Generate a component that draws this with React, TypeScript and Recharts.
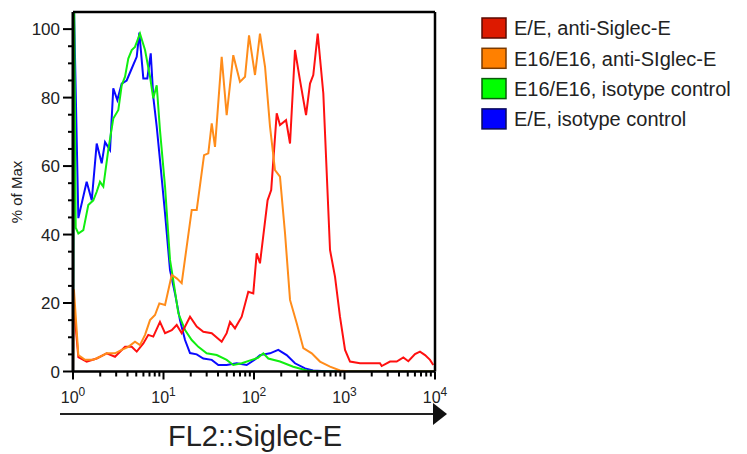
import React from 'react';
import { LineChart, Line, XAxis, YAxis, ReferenceLine } from 'recharts';

// x values are log10(FL2::Siglec-E), y values are % of Max
const eeAntiLog = [0, 0.059, 0.151, 0.262, 0.372, 0.464, 0.575, 0.649, 0.704, 0.777, 0.832, 0.887, 0.961, 1.017, 1.091, 1.146, 1.201, 1.293, 1.367, 1.44, 1.533, 1.643, 1.698, 1.735, 1.79, 1.864, 1.937, 1.992, 2.03, 2.066, 2.15, 2.19, 2.251, 2.287, 2.354, 2.398, 2.453, 2.508, 2.575, 2.619, 2.655, 2.704, 2.766, 2.84, 2.895, 2.95, 3.006, 3.061, 3.171, 3.356, 3.392, 3.411, 3.503, 3.577, 3.65, 3.705, 3.779, 3.834, 3.89, 3.945, 3.981];
const eeAntiPct = [22, 4.2, 2.9, 3.8, 5.3, 4.3, 7.2, 7.2, 5.8, 8.2, 10.7, 10.2, 14.5, 11.2, 12.1, 13.6, 11.2, 16, 13.1, 11.6, 11.2, 8.7, 11.2, 14.5, 12.6, 16, 23.3, 22.8, 34.5, 31.6, 50, 53, 75.4, 72, 73.4, 66.6, 93.9, 85.1, 74.9, 84.1, 86.6, 98.7, 81.2, 35.5, 27.7, 16, 6.3, 2.9, 2.4, 2.4, 2.4, 1.6, 2.9, 2.9, 4.1, 3, 5.1, 5.8, 4.8, 3.4, 1.9];

const e16AntiLog = [0, 0.01, 0.059, 0.133, 0.224, 0.298, 0.372, 0.464, 0.538, 0.611, 0.685, 0.74, 0.796, 0.851, 0.906, 0.954, 1.017, 1.091, 1.146, 1.201, 1.256, 1.312, 1.367, 1.448, 1.495, 1.533, 1.569, 1.643, 1.698, 1.771, 1.845, 1.901, 1.945, 2.011, 2.066, 2.122, 2.177, 2.232, 2.287, 2.343, 2.398, 2.472, 2.545, 2.638, 2.729, 2.84, 2.95, 3.061, 4];
const e16AntiPct = [0, 24, 4.8, 3.4, 3.4, 4.3, 5.3, 5.3, 6.3, 7.2, 8.7, 7.7, 10.7, 15, 16.5, 19.9, 19.4, 28.2, 27.2, 25.8, 36.4, 47.2, 47.2, 63.2, 63.7, 72.5, 65.6, 91.9, 74.9, 92.4, 84.6, 86.1, 98.2, 86.6, 98.7, 89, 71.5, 58.8, 56.9, 40.3, 20.9, 14.1, 6.8, 5.3, 2.9, 1.4, 0.3, 0, 0];

const e16IsoLog = [0, 0.012, 0.03, 0.059, 0.114, 0.169, 0.224, 0.262, 0.298, 0.335, 0.39, 0.445, 0.501, 0.538, 0.575, 0.611, 0.649, 0.685, 0.74, 0.796, 0.851, 0.887, 0.925, 0.961, 1.017, 1.072, 1.108, 1.164, 1.238, 1.312, 1.385, 1.477, 1.588, 1.698, 1.771, 1.864, 1.975, 2.044, 2.103, 2.158, 2.287, 2.434, 2.582, 2.729, 4];
const e16IsoPct = [0, 110, 42, 40.3, 41.3, 48.6, 50, 52.5, 55.4, 54, 64.7, 73.9, 76.4, 83.6, 86.1, 91.4, 93.9, 94.8, 98.7, 93.9, 86.1, 79.8, 83.6, 70.5, 54, 32.6, 26.7, 17, 12.1, 9.2, 7.2, 5.3, 4.8, 3.4, 1.9, 2.4, 3.4, 4, 5.3, 3.8, 2.9, 1.4, 0.3, 0, 0];

const eeIsoLog = [0, 0.008, 0.059, 0.151, 0.207, 0.262, 0.317, 0.354, 0.409, 0.445, 0.49, 0.538, 0.593, 0.649, 0.704, 0.733, 0.777, 0.821, 0.859, 0.887, 0.925, 0.961, 1.017, 1.072, 1.127, 1.182, 1.238, 1.293, 1.367, 1.44, 1.533, 1.606, 1.698, 1.809, 1.919, 2.011, 2.066, 2.177, 2.268, 2.361, 2.453, 2.564, 2.652, 2.84, 4];
const eeIsoPct = [0, 110, 44.8, 55.4, 50, 66.6, 60.8, 67, 64.7, 82.7, 79.3, 84.1, 85, 88.5, 91.9, 99, 85.6, 85.6, 92.9, 80.2, 71.5, 61.8, 46.2, 29.6, 22.8, 15, 9.2, 5.4, 5, 3.8, 3.4, 1.9, 1.9, 2.4, 1.9, 3.5, 4.8, 5.3, 6.3, 4.8, 2.4, 0.9, 0.3, 0, 0];

const seriesNames = ['E/E, anti-Siglec-E', 'E16/E16, anti-SIglec-E', 'E16/E16, isotype control', 'E/E, isotype control'];
const lineColors = ['#ff1010', '#ff8c1a', '#10ee10', '#0a0aff'];
const boxColors = ['#dd1a00', '#ff8000', '#00ff00', '#0000ff'];
const boxBorders = ['#5a0a00', '#7a3a00', '#0a5a0a', '#0a0a5a'];

const xMajorTicks = [0, 1, 2, 3, 4];
const yMajorTicks = [0, 20, 40, 60, 80, 100];

const xTicks: number[] = [];
for (let d = 0; d < 4; d++) for (let m = 1; m <= 9; m++) xTicks.push(+(d + Math.log10(m)).toFixed(4));
xTicks.push(4);
const yTicks: number[] = [];
for (let v = 0; v <= 100; v += 5) yTicks.push(v);

const mk = (xs: number[], ys: number[]) => xs.map((x, i) => ({ x, y: ys[i] }));

const FONT = '"Liberation Sans", Arial, sans-serif';

const XTick = (props: any) => {
  const { x, y, payload } = props;
  const v = payload.value;
  const isMajor = xMajorTicks.some((t) => Math.abs(t - v) < 1e-6);
  return (
    <g>
      <line x1={x} x2={x} y1={y} y2={y + (isMajor ? 8 : 5)} stroke="#000" strokeWidth={2} />
      {isMajor && (
        <text x={x} y={y + 31} textAnchor="middle" fontFamily={FONT} fontSize={16} fill="#222">
          10<tspan dy={-7} fontSize={12}>{Math.round(v)}</tspan>
        </text>
      )}
    </g>
  );
};

const YTick = (props: any) => {
  const { x, y, payload } = props;
  const v = payload.value;
  const isMajor = yMajorTicks.includes(v);
  return (
    <g>
      <line x1={x} x2={x - (isMajor ? 10 : 5)} y1={y} y2={y} stroke="#000" strokeWidth={2} />
      {isMajor && (
        <text x={x - 13} y={y} dy="0.36em" textAnchor="end" fontFamily={FONT} fontSize={17} fill="#222">
          {v}
        </text>
      )}
    </g>
  );
};

export default function App() {
  const datasets = [mk(eeAntiLog, eeAntiPct), mk(e16AntiLog, e16AntiPct), mk(e16IsoLog, e16IsoPct), mk(eeIsoLog, eeIsoPct)];
  const drawOrder = [3, 2, 0, 1];
  return (
    <div style={{ position: 'absolute', left: 0, top: 0, width: 747, height: 454, background: '#fff' }}>
      <LineChart width={747} height={454} margin={{ top: 12, right: 312, bottom: 52.5, left: 33 }}>
        <XAxis
          type="number"
          dataKey="x"
          domain={[0, 4]}
          ticks={xTicks}
          interval={0}
          allowDataOverflow
          height={30}
          tickSize={0}
          tickMargin={0}
          tickLine={false}
          tick={<XTick />}
          axisLine={{ stroke: '#000', strokeWidth: 2.5 }}
        />
        <YAxis
          type="number"
          dataKey="y"
          domain={[0, 105]}
          ticks={yTicks}
          interval={0}
          allowDataOverflow
          width={40}
          tickSize={0}
          tickMargin={0}
          tickLine={false}
          tick={<YTick />}
          axisLine={{ stroke: '#000', strokeWidth: 3 }}
        />
        {drawOrder.map((i) => (
          <Line
            key={i}
            data={datasets[i]}
            dataKey="y"
            type="linear"
            stroke={lineColors[i]}
            strokeWidth={2}
            dot={false}
            activeDot={false}
            isAnimationActive={false}
          />
        ))}
        <ReferenceLine y={105} stroke="#000" strokeWidth={2.5} />
        <ReferenceLine x={4} stroke="#000" strokeWidth={2.5} />
      </LineChart>
      <svg width={747} height={454} style={{ position: 'absolute', left: 0, top: 0, pointerEvents: 'none' }}>
        <line x1={60} y1={414} x2={435} y2={414} stroke="#222" strokeWidth={2} />
        <polygon points="433,403 447,414 433,425" fill="#111" />
        <text x={255} y={446} textAnchor="middle" fontFamily={FONT} fontSize={29} fill="#222">
          FL2::Siglec-E
        </text>
        <text
          x={0}
          y={0}
          transform="translate(22,192) rotate(-90)"
          textAnchor="middle"
          fontFamily={FONT}
          fontSize={15}
          fill="#222"
        >
          % of Max
        </text>
        {seriesNames.map((name, i) => (
          <g key={name}>
            <rect x={482} y={18 + i * 30.3} width={24} height={20} fill={boxColors[i]} stroke={boxBorders[i]} strokeWidth={1.5} />
            <text x={514} y={28 + i * 30.3} dy="0.36em" fontFamily={FONT} fontSize={20} fill="#222">
              {name}
            </text>
          </g>
        ))}
      </svg>
    </div>
  );
}
